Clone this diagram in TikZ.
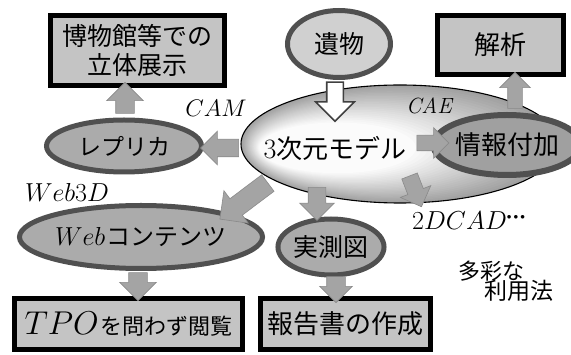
\RequirePackage{fix-cm}
\documentclass[tikz,border=0pt]{standalone}
\usepackage{fontspec}
\newfontfamily\jp{Noto Sans CJK JP}
\usetikzlibrary{shapes.geometric,shapes.arrows}
\definecolor{boxfill}{HTML}{C4C4C4}
\definecolor{ringcol}{HTML}{505050}
\definecolor{ellfill}{HTML}{ABABAB}
\definecolor{lightfill}{HTML}{D0D0D0}
\definecolor{arrfill}{HTML}{A4A4A4}
\definecolor{arredge}{HTML}{8A8A8A}
\definecolor{mgray}{HTML}{A0A0A0}
\definecolor{hollowedge}{HTML}{404040}
\begin{document}
\begin{tikzpicture}[x=1pt,y=-1pt,
  box/.style={rectangle, draw=black, line width=5pt, fill=boxfill, inner sep=0pt, align=center},
  ring/.style={ellipse, draw=ringcol, line width=5pt, fill=ellfill, inner sep=0pt},
  barrow/.style={single arrow, draw=arredge, fill=arrfill, line width=0.6pt, inner xsep=0pt},
  hollowarrow/.style={single arrow, draw=hollowedge, fill=white, line width=1.6pt, inner xsep=0pt},
  lbl/.style={inner sep=0pt}
]
\useasboundingbox (0,0) rectangle (571,355);

% big model ellipse: stepped gradient from grey rim to white centre
\node[ellipse, fill=mgray, minimum width=318pt, minimum height=118pt, inner sep=0pt] (model) at (400,144) {};
\foreach \t in {0.04,0.08,...,1.0}{
  \pgfmathsetmacro\pc{100-100*\t}
  \fill[mgray!\pc!white] ({400-65*\t},{144+4*\t}) ellipse ({159-84*\t} and {59-35*\t});
}
\node[ellipse, draw=black, line width=1.1pt, minimum width=318pt, minimum height=118pt, inner sep=0pt] at (model.center) {};
\node[lbl] (mtext) at (335,148) {{\fontsize{28}{28}\selectfont 3}{\jp\fontsize{26}{26}\selectfont 次元モデル}};

% boxes
\node[box, minimum width=174pt, minimum height=70pt, font=\jp\fontsize{25}{29}\selectfont] (haku) at (137.5,50.5) {博物館等での\\立体展示};
\node[box, minimum width=126pt, minimum height=59pt, font=\jp\fontsize{26}{26}\selectfont] (kaiseki) at (500.5,45) {解析};
\node[box, minimum width=228pt, minimum height=51pt] (tpo) at (128.5,324) {{\fontsize{33}{33}\selectfont$TPO$}\,{\jp\fontsize{22}{22}\selectfont を問わず閲覧}};
\node[box, minimum width=170pt, minimum height=51pt, font=\jp\fontsize{26}{26}\selectfont] (hokoku) at (345.5,324) {報告書の作成};

% ellipses
\node[ring, fill=lightfill, minimum width=103pt, minimum height=67pt, font=\jp\fontsize{25}{25}\selectfont] (ibutsu) at (339,44) {遺物};
\node[ring, minimum width=155pt, minimum height=52pt, font=\jp\fontsize{23}{23}\selectfont] (replica) at (124,146) {レプリカ};
\node[ring, line width=6pt, fill=mgray, minimum width=114pt, minimum height=60pt, font=\jp\fontsize{26}{26}\selectfont] (joho) at (507,145) {情報付加};
\node[ring, minimum width=197pt, minimum height=63pt] (web) at (141,237) {{\fontsize{26}{26}\selectfont$Web$}\,{\jp\fontsize{24}{24}\selectfont コンテンツ}};
\node[ring, minimum width=102pt, minimum height=56pt, font=\jp\fontsize{25}{25}\selectfont] (jissoku) at (331,247) {実測図};

% block arrows
\node[barrow, minimum height=31pt, inner ysep=9pt, single arrow head extend=9pt, rotate=90] (a1) at (125,102.5) {};
\node[barrow, minimum height=38pt, inner ysep=8.5pt, single arrow head extend=8pt, rotate=180] (a2) at (224,148) {};
\node[hollowarrow, minimum height=39pt, inner ysep=7.5pt, single arrow head extend=11pt, rotate=-90] (a3) at (335,97.5) {};
\node[barrow, minimum height=32pt, inner ysep=7.5pt, single arrow head extend=7.5pt, rotate=0] (a4) at (429,143) {};
\node[barrow, minimum height=36pt, inner ysep=7pt, single arrow head extend=8pt, rotate=90] (a5) at (515,94) {};
\node[barrow, minimum height=60pt, inner ysep=10pt, single arrow head extend=10pt, rotate=216.9] (a6) at (248,198) {};
\node[barrow, minimum height=33pt, inner ysep=8.5pt, single arrow head extend=8.5pt, rotate=-90] (a7) at (317,199.5) {};
\node[barrow, minimum height=33pt, inner ysep=8pt, single arrow head extend=8pt, rotate=-68.8] (a8) at (414,187.5) {};
\node[barrow, minimum height=28pt, inner ysep=9pt, single arrow head extend=9pt, rotate=-90] (a9) at (138,282) {};
\node[barrow, minimum height=26pt, inner ysep=9pt, single arrow head extend=7pt, rotate=-90] (a10) at (336,285) {};

% labels
\node[lbl, font=\fontsize{24}{24}\selectfont] (cam) at (216,108) {$CAM$};
\node[lbl, font=\fontsize{22}{22}\selectfont\itshape] (cae) at (429,106) {CAE};
\node[lbl, font=\fontsize{26}{26}\selectfont] (web3d) at (67,192) {$Web3D$};
\node[lbl, font=\fontsize{26}{26}\selectfont, anchor=west] (cad) at (412,221) {$2DCAD$\raisebox{10pt}{\fontsize{9}{9}\selectfont$\bullet\bullet\bullet$}};
\node[lbl, font=\jp\fontsize{22}{22}\selectfont] (tasai) at (491,271) {多彩な};
\node[lbl, font=\jp\fontsize{23}{23}\selectfont] (riyo) at (519,291) {利用法};
\end{tikzpicture}
\end{document}
